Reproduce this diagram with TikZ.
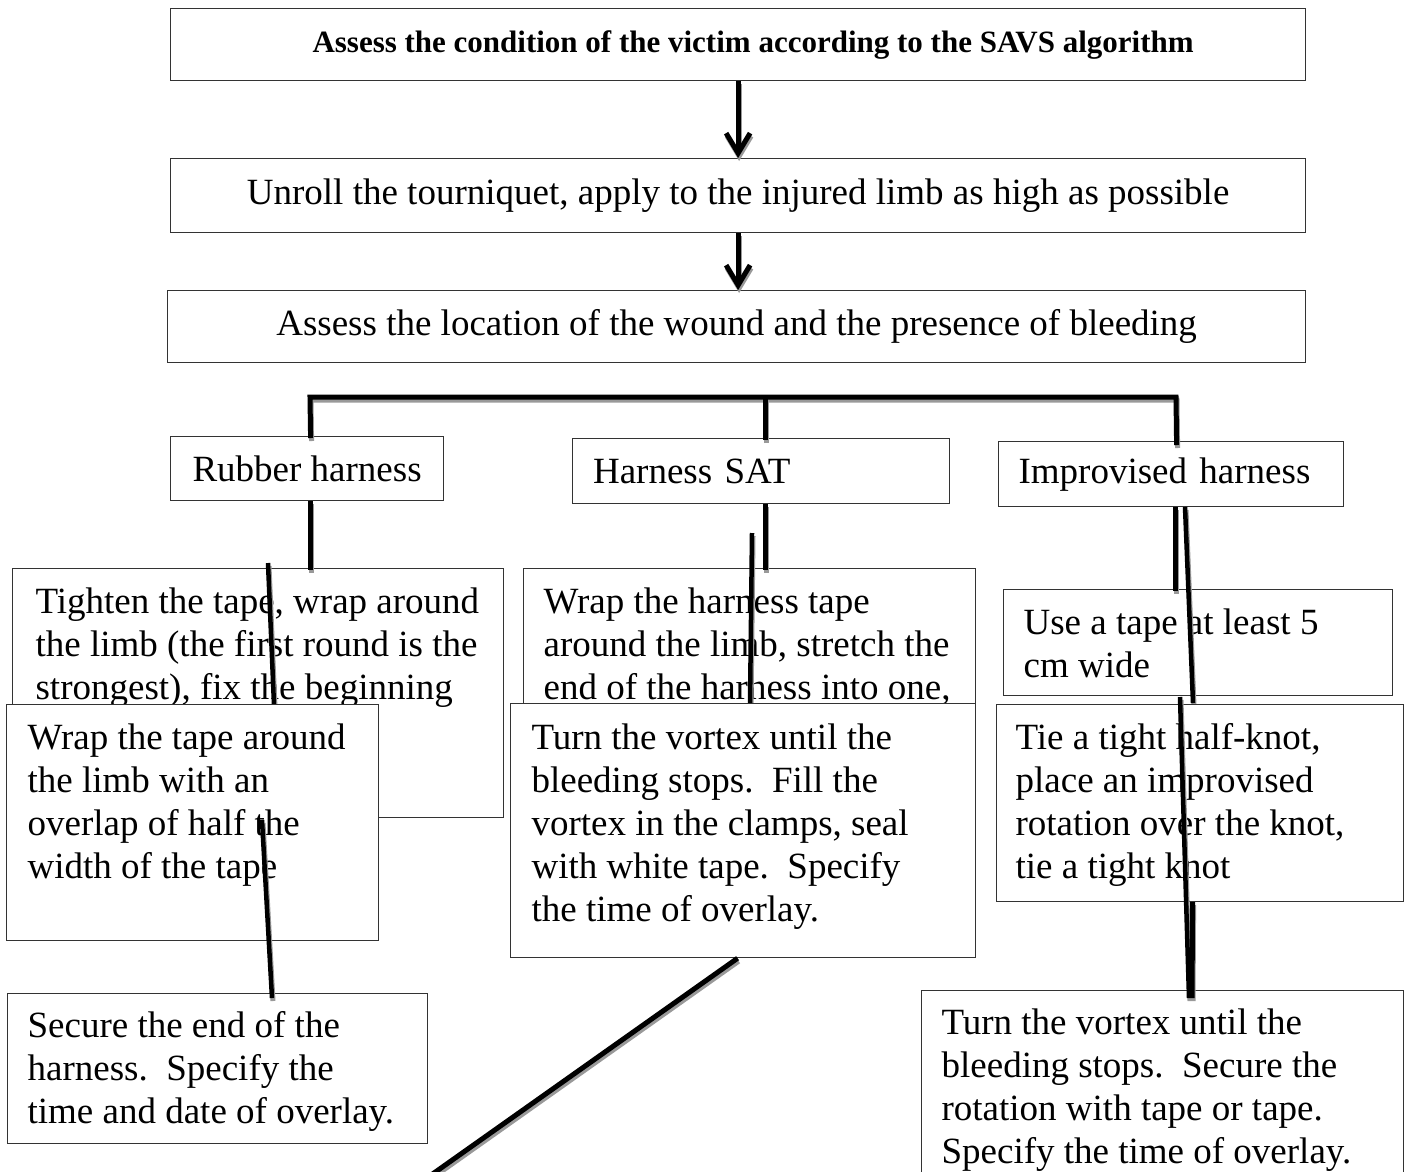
\documentclass[tikz,border=0pt]{standalone}
\usepackage{fontspec}
\setmainfont{Liberation Serif}
\usetikzlibrary{arrows.meta}
\newcommand{\bxt}[5]{\begin{minipage}[c][#2pt][t]{#1pt}\raggedright\leftskip=#3pt\relax\vspace*{#4pt}\strut#5\end{minipage}}
\tikzset{
  bx/.style={draw=black!80, line width=1.2pt, fill=white, inner sep=0pt, anchor=north west,
    font=\fontsize{37}{43}\selectfont},
  conn/.style={line width=5pt, draw=black,
    preaction={draw=black!40, line width=5pt, transform canvas={xshift=1pt,yshift=-3pt}}},
  slant/.style={conn, line width=4.5pt},
  arr/.style={conn, -{Straight Barb[length=20pt,width=24pt]}}
}
\begin{document}
\begin{tikzpicture}[x=1pt,y=-1pt]
\useasboundingbox (0,0) rectangle (1411,1171);
\clip (0,0) rectangle (1411,1171);

% top chain
\node[bx, minimum width=1135pt, minimum height=72pt, font=\bfseries\fontsize{31}{36}\selectfont] (top) at (170,8)
  {\hspace*{30pt}Assess the condition of the victim according to the SAVS algorithm};
\node[bx, minimum width=1135pt, minimum height=74pt] (unroll) at (170,158)
  {Unroll the tourniquet, apply to the injured limb as high as possible};
\node[bx, minimum width=1138pt, minimum height=72pt] (locate) at (167,290)
  {Assess the location of the wound and the presence of bleeding};
\draw[arr] (top.south) -- (unroll.north);
\draw[arr] (unroll.south) -- (unroll.south |- locate.north);

% second level
\node[bx, minimum width=273pt, minimum height=64pt] (rubber) at (170,436) {Rubber harness};
\node[bx, minimum height=65pt, text width=336pt, align=left, inner xsep=20.5pt] (sat) at (572,438) {Harness SAT};
\node[bx, minimum height=65pt, text width=305pt, align=left, inner xsep=20pt] (impro) at (998,441) {Improvised harness};
\coordinate (busL) at (310,397);
\coordinate (busR) at (1176,397);
\draw[conn] ([xshift=3.5pt,yshift=-2pt]rubber.north) -- (busL) -- (busR) -- ([xshift=5.5pt,yshift=-4pt]impro.north);
\draw[conn] ([xshift=4.5pt,yshift=-2pt]sat.north) -- ([xshift=4.5pt]sat.north |- busL);

% left column
\node[bx] (tighten) at (12,568) {\bxt{491}{249}{23}{15}{Tighten the tape, wrap around\\the limb (the first round is the\\strongest), fix the beginning}};
\draw[conn] ([xshift=3.5pt]rubber.south) -- ([xshift=3.5pt,yshift=-2pt]rubber.south |- tighten.north);
\coordinate (s1a) at (268,563);
\coordinate (s1b) at (274,705);
\draw[slant] (s1a) -- (s1b);
\node[bx] (wrapt) at (6,704) {\bxt{372}{236}{21}{15}{Wrap the tape around\\the limb with an\\overlap of half the\\width of the tape}};
\node[bx] (secure) at (7,993) {\bxt{420}{150}{20}{14}{Secure the end of the\\harness.\ \ Specify the\\time and date of overlay.}};
\coordinate (s2a) at (262,820);
\coordinate (s2b) at (272,998);
\draw[slant] (s2a) -- (s2b);

% middle column
\node[bx] (wraph) at (523,568) {\bxt{452}{250}{20}{15}{Wrap the harness tape\\around the limb, stretch the\\end of the harness into one,}};
\draw[conn] ([xshift=4.5pt]sat.south) -- ([xshift=4.5pt,yshift=-2pt]sat.south |- wraph.north);
\coordinate (s3a) at (752,533);
\coordinate (s3b) at (750,705);
\draw[slant] (s3a) -- (s3b);
\node[bx] (turnm) at (510,703) {\bxt{465}{254}{21}{16}{Turn the vortex until the\\bleeding stops.\ \ Fill the\\vortex in the clamps, seal\\with white tape.\ \ Specify\\the time of overlay.}};
\coordinate (dend) at (417,1185);
\draw[conn] ([xshift=-5.5pt]turnm.south) -- (dend);

% right column
\node[bx] (usetape) at (1003,589) {\bxt{389}{106}{20}{15}{Use a tape at least 5\\cm wide}};
\draw[conn] ([xshift=4.5pt]impro.south) -- ([xshift=4.5pt,yshift=-2pt]impro.south |- usetape.north);
\coordinate (ra) at (1185,507);
\coordinate (rb) at (1193,703);
\draw[slant] (ra) -- (rb);
\node[bx] (tie) at (996,704) {\bxt{407}{197}{19}{15}{Tie a tight half-knot,\\place an improvised\\rotation over the knot,\\tie a tight knot}};
\node[bx] (turnr) at (921,990) {\bxt{482}{200}{20}{14}{Turn the vortex until the\\bleeding stops.\ \ Secure the\\rotation with tape or tape.\\Specify the time of overlay.}};
\coordinate (rc) at (1180,697);
\coordinate (rd) at (1189,998);
\draw[slant] (rc) -- (rd);
\coordinate (re) at (1192,998);
\draw[conn] ([xshift=-7.5pt]tie.south) -- (re);
\end{tikzpicture}
\end{document}
